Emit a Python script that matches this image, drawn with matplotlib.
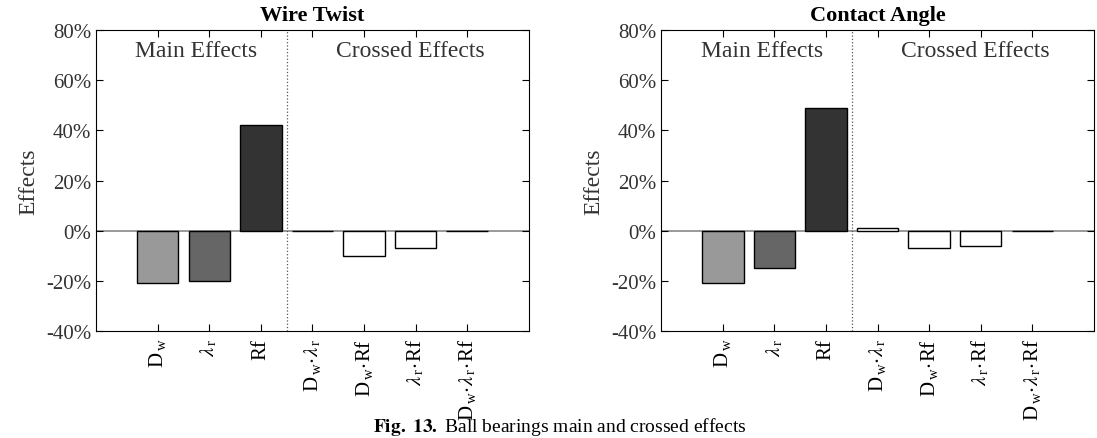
import numpy as np
import matplotlib.pyplot as plt
from matplotlib.ticker import PercentFormatter

plt.rcParams['font.family'] = ['Liberation Serif', 'DejaVu Serif']
plt.rcParams['mathtext.fontset'] = 'stix'
plt.rcParams['axes.unicode_minus'] = False

# effect labels (main effects then crossed effects)
labels = [r'$\mathregular{D_{\,w}}$', r'$\lambda_{\,\mathregular{r}}$', 'Rf',
          r'$\mathregular{D_{\,w}}\!\cdot\!\lambda_{\,\mathregular{r}}$',
          r'$\mathregular{D_{\,w}}\!\cdot\!\mathregular{Rf}$',
          r'$\lambda_{\,\mathregular{r}}\!\cdot\!\mathregular{Rf}$',
          r'$\mathregular{D_{\,w}}\!\cdot\!\lambda_{\,\mathregular{r}}\!\cdot\!\mathregular{Rf}$']
bar_colors = ['#999999', '#666666', '#333333', 'white', 'white', 'white', 'white']

# values in percent
wire_twist = [-21, -20, 42, -0.3, -10, -7, -0.2]
contact_angle = [-21, -15, 49, 1, -7, -6, -0.2]

panels = [('Wire Twist', wire_twist), ('Contact Angle', contact_angle)]

fig = plt.figure(figsize=(10.97, 4.39), dpi=100)
lefts = [0.0875, 0.6026]

for (title, vals), left in zip(panels, lefts):
    ax = fig.add_axes([left, 0.2437, 0.3947, 0.6856])
    x = np.arange(1, len(vals) + 1)
    ax.axhline(0, color='#888888', linewidth=1.2, zorder=1)
    ax.bar(x, vals, width=0.8, color=bar_colors, edgecolor='black',
           linewidth=1.0, zorder=2)
    ax.axvline(3.5, color='#555555', linestyle=':', linewidth=0.9)
    ax.set_xlim(-0.2, 8.2)
    ax.set_ylim(-40, 80)
    ax.set_yticks(np.arange(-40, 81, 20))
    ax.yaxis.set_major_formatter(PercentFormatter(decimals=0))
    ax.set_xticks(x)
    ax.set_xticklabels(labels, rotation=90, color='#222222')
    ax.tick_params(direction='in', top=True, right=True, length=5,
                   labelsize=15, colors='black')
    ax.tick_params(axis='x', labelsize=15, pad=5)
    ax.tick_params(axis='y', labelcolor='#333333')
    ax.set_ylabel('Effects', fontsize=17, color='#333333', labelpad=5)
    ax.set_title(title, fontsize=16, fontweight='bold', pad=7)
    ax.text(1.75, 76, 'Main Effects', ha='center', va='top', fontsize=17,
            color='#333333')
    ax.text(5.9, 76, 'Crossed Effects', ha='center', va='top', fontsize=17,
            color='#333333')

fig.text(0.51, 0.003, r'$\mathbf{Fig.\ 13.}$' + ' Ball bearings main and crossed effects',
         ha='center', va='bottom', fontsize=14)

plt.savefig('out.png', dpi=100)
